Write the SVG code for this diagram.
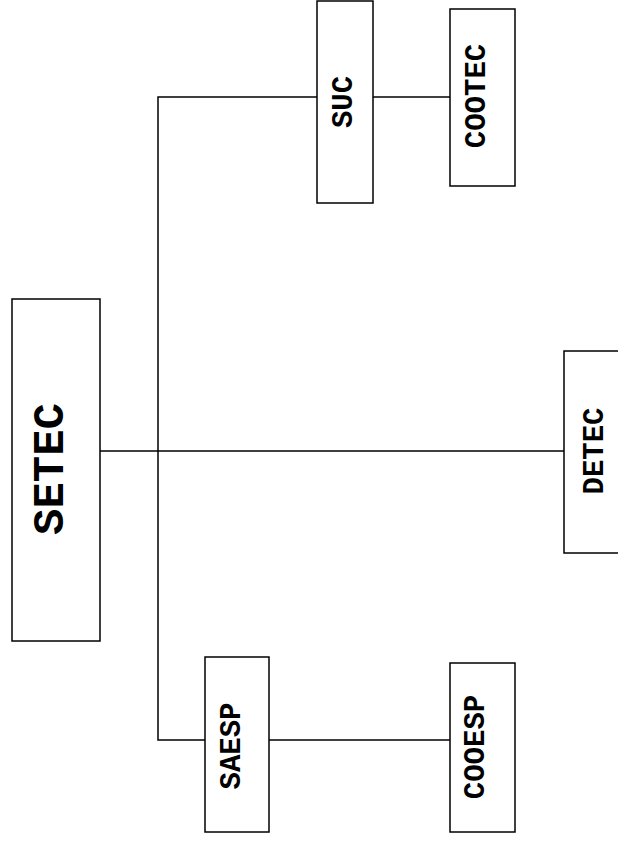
<svg xmlns="http://www.w3.org/2000/svg" width="618" height="842" viewBox="0 0 618 842">
<style>
.box{fill:#fff;stroke:#000;stroke-width:1.5}
.ln{fill:none;stroke:#000;stroke-width:1.5}
.t{font-family:"Liberation Mono","Courier New",monospace;font-weight:bold;font-size:29px;text-anchor:middle;fill:#000}
.big{font-size:44px}
</style>
<rect width="618" height="842" fill="#fff"/>
<g id="connectors">
<line class="ln" x1="100" y1="451" x2="564" y2="451"/>
<polyline class="ln" points="317,97 158,97 158,740 205,740"/>
<line class="ln" x1="373" y1="97" x2="450" y2="97"/>
<line class="ln" x1="269" y1="740" x2="450" y2="740"/>
</g>
<g id="SETEC">
<rect class="box" x="12" y="299" width="88" height="342"/>
<text class="t big" transform="translate(63,469) rotate(-90)">SETEC</text>
</g>
<g id="SUC">
<rect class="box" x="317" y="1" width="56" height="202"/>
<text class="t" transform="translate(352,102) rotate(-90)">SUC</text>
</g>
<g id="COOTEC">
<rect class="box" x="450" y="9" width="65" height="177"/>
<text class="t" transform="translate(485,96) rotate(-90)">COOTEC</text>
</g>
<g id="DETEC">
<rect class="box" x="564" y="351" width="70" height="202"/>
<text class="t" transform="translate(603,451) rotate(-90)">DETEC</text>
</g>
<g id="SAESP">
<rect class="box" x="205" y="657" width="64" height="175"/>
<text class="t" transform="translate(240,746) rotate(-90)">SAESP</text>
</g>
<g id="COOESP">
<rect class="box" x="450" y="663" width="65" height="169"/>
<text class="t" transform="translate(484,747) rotate(-90)">COOESP</text>
</g>
</svg>
